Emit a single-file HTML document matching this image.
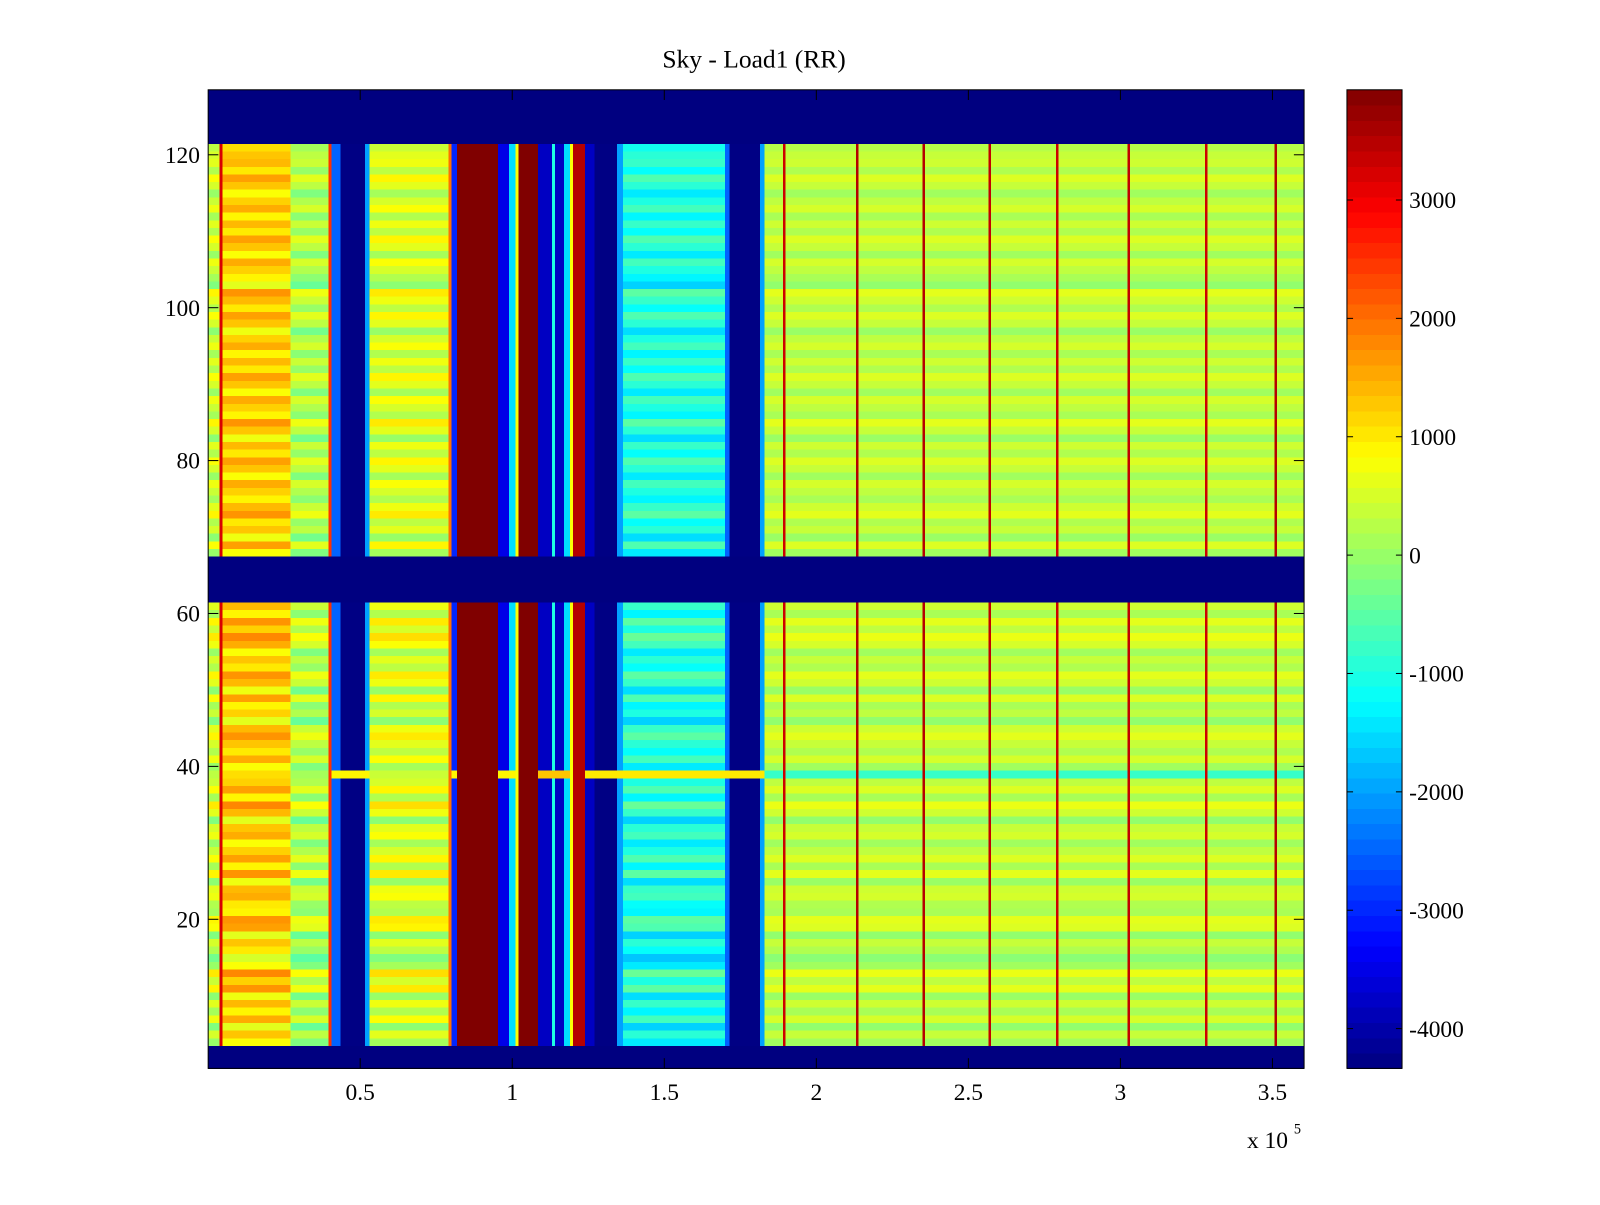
<!DOCTYPE html>
<html><head><meta charset="utf-8">
<style>
body{margin:0;background:#fff;}
svg text{font-family:"Liberation Serif",serif;font-size:23px;fill:#000;}
</style></head>
<body>
<svg id="chart" width="1600" height="1200" viewBox="0 0 1568 1176" xmlns="http://www.w3.org/2000/svg">
<text x="739" y="66" text-anchor="middle" style="font-size:25px">Sky - Load1 (RR)</text>
<g id="cells"></g>
<g id="cbar"></g>
<g id="axes"></g>
<text x="1222" y="1125">x 10</text>
<text x="1268" y="1111" style="font-size:14px">5</text>
</svg>
<script>
// ---- data ----
const xTicks = [0.5, 1, 1.5, 2, 2.5, 3, 3.5];
const xTickLabels = ["0.5", "1", "1.5", "2", "2.5", "3", "3.5"];
const yTicks = [20, 40, 60, 80, 100, 120];
const cTicks = [3000, 2000, 1000, 0, -1000, -2000, -3000, -4000];
const segStart = [0,0.037,0.047,0.27,0.395,0.405,0.435,0.515,0.53,0.79,0.80,0.818,0.953,0.99,1.01,1.02,1.085,1.13,1.14,1.17,1.19,1.2,1.24,1.27,1.345,1.365,1.70,1.715,1.815,1.83];
const segEnd   = [0.037,0.047,0.27,0.395,0.405,0.435,0.515,0.53,0.79,0.80,0.818,0.953,0.99,1.01,1.02,1.085,1.13,1.14,1.17,1.19,1.2,1.24,1.27,1.345,1.365,1.70,1.715,1.815,1.83,3.604];
const segValue = [300,3200,1100,100,2500,-2500,-4300,-2000,400,2000,-3000,3931,-3500,-1500,800,3931,-3800,-1000,-3800,-1500,800,3500,-3800,-4300,-2000,-1100,-2500,-4300,-2000,250];
const segTexture=[1,0,1,1,0,0,0,0,1,0,0,0,0,0,0,0,0,0,0,0,0,0,0,0,0,1,0,0,0,0.6];
const lineX = [1.893, 2.134, 2.352, 2.57, 2.792, 3.027, 3.282, 3.51];
const lineValue = [3300, 3500, 3500, 3400, 3300, 3400, 3300, 3500];
const emptyRows = [1,2,3,62,63,64,65,66,67,122,123,124,125,126,127,128];
const rowOffset = [0,0,0,-300,200,-500,400,-200,300,-400,600,100,700,-300,-600,-100,200,-500,500,600,-200,-100,400,300,-400,600,-200,500,100,-300,400,200,-500,300,700,-200,500,100,0,-300,400,-100,200,600,300,-500,100,-200,500,-400,300,600,-100,200,-300,400,700,100,600,-200,300,0,0,0,0,0,0,-300,500,-400,200,-100,600,300,-200,100,400,-300,200,500,-100,300,-400,200,600,-200,100,400,-300,200,500,-100,300,-200,400,100,-400,200,500,-100,300,600,-500,-200,100,400,-300,200,500,-100,300,-200,400,100,-300,200,500,-100,300,200,0,0,0,0,0,0,0];
const row39Start = [0.405, 0.953, 1.085, 1.24, 1.83];
const row39End   = [0.818, 1.02, 1.19, 1.86, 3.604];
const row39Value = [900, 900, 1300, 1000, -800];

// ---- scales ----
const X0=204, X1=1278, Y0=88, Y1=1047, XMAX=3.604, YMIN=0.5, YMAX=128.5;
const CMIN=-4336, CMAX=3931;
const xs = v => X0 + v/XMAX*(X1-X0);
const ys = v => Y0 + (YMAX-v)/(YMAX-YMIN)*(Y1-Y0);
const NS="http://www.w3.org/2000/svg";
function jet(v){
  let t=(v-CMIN)/(CMAX-CMIN); t=Math.max(0,Math.min(1,t));
  const f=x=>Math.round(255*Math.max(0,Math.min(1,x)));
  return `rgb(${f(1.5-Math.abs(4*t-3))},${f(1.5-Math.abs(4*t-2))},${f(1.5-Math.abs(4*t-1))})`;
}
function rect(g,x,y,w,h,fill){
  const r=document.createElementNS(NS,'rect');
  r.setAttribute('x',x);r.setAttribute('y',y);r.setAttribute('width',w);r.setAttribute('height',h);
  r.setAttribute('fill',fill);r.setAttribute('shape-rendering','crispEdges');
  g.appendChild(r);return r;
}
const cells=document.getElementById('cells');
for(let r=1;r<=128;r++){
  const yT=ys(r+0.5), h=ys(r-0.5)-yT;
  if(emptyRows.includes(r)){
    const c=rect(cells,X0,yT,X1-X0,h+0.5,jet(CMIN));
    
    
    continue;
  }
  for(let i=0;i<segStart.length;i++){
    let v=segValue[i]+segTexture[i]*rowOffset[r-1];
    if(r===39){
      for(let k=0;k<row39Start.length;k++){
        if(segStart[i]>=row39Start[k]-1e-9 && segEnd[i]<=row39End[k]+1e-9 && (segValue[i]<0||k===4)) v=row39Value[k];
      }
    }
    const c=rect(cells,xs(segStart[i]),yT,xs(segEnd[i])-xs(segStart[i])+0.5,h+0.5,jet(v));
    
    
  }
  for(let k=0;k<lineX.length;k++){
    const c=rect(cells,xs(lineX[k])-1,yT,2.5,h+0.5,jet(lineValue[k]));
    
    
  }
}
// colorbar
const cb=document.getElementById('cbar');
const CB0=1320,CB1=1374;
const cy=v=>Y0+(CMAX-v)/(CMAX-CMIN)*(Y1-Y0);
for(let i=0;i<64;i++){
  const lo=CMIN+(CMAX-CMIN)*i/64, hi=CMIN+(CMAX-CMIN)*(i+1)/64;
  const c=rect(cb,CB0,cy(hi),CB1-CB0,cy(lo)-cy(hi)+0.5,jet((lo+hi)/2));
  
  
}
const ax=document.getElementById('axes');
function line(g,x1,y1,x2,y2){
  const l=document.createElementNS(NS,'line');
  l.setAttribute('x1',x1);l.setAttribute('y1',y1);l.setAttribute('x2',x2);l.setAttribute('y2',y2);
  l.setAttribute('stroke','#000');l.setAttribute('stroke-width','1');g.appendChild(l);return l;
}
function text(g,x,y,s,anchor){
  const t=document.createElementNS(NS,'text');
  t.setAttribute('x',x);t.setAttribute('y',y);t.setAttribute('text-anchor',anchor);t.textContent=s;g.appendChild(t);return t;
}
const box=document.createElementNS(NS,'rect');
box.setAttribute('x',X0);box.setAttribute('y',Y0);box.setAttribute('width',X1-X0);box.setAttribute('height',Y1-Y0);
box.setAttribute('fill','none');box.setAttribute('stroke','#000');


ax.appendChild(box);
const cbox=document.createElementNS(NS,'rect');
cbox.setAttribute('x',CB0);cbox.setAttribute('y',Y0);cbox.setAttribute('width',CB1-CB0);cbox.setAttribute('height',Y1-Y0);
cbox.setAttribute('fill','none');cbox.setAttribute('stroke','#000');


ax.appendChild(cbox);
xTicks.forEach((v,i)=>{
  const x=xs(v);
  line(ax,x,Y1,x,Y1-10);line(ax,x,Y0,x,Y0+10);
  const t=text(ax,x,1078,xTickLabels[i],'middle');
  
  
});
yTicks.forEach(v=>{
  const y=ys(v);
  line(ax,X0,y,X0+10,y);line(ax,X1,y,X1-10,y);
  const t=text(ax,196,y+8,String(v),'end');
  
  
});
cTicks.forEach(v=>{
  const y=cy(v);
  line(ax,CB0,y,CB0+6,y);line(ax,CB1,y,CB1-6,y);
  const t=text(ax,1381,y+8,String(v),'start');
  
  
});
</script>
</body></html>
